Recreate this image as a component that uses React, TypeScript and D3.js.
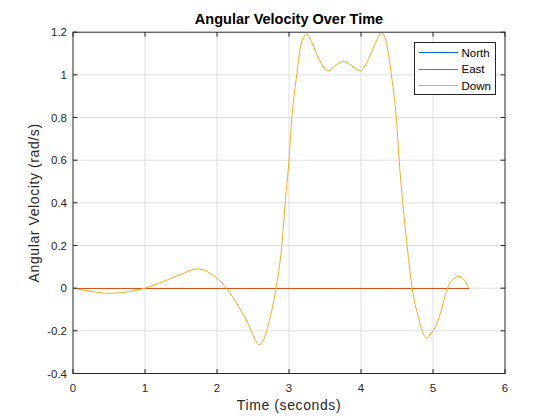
import * as d3 from "d3";

const xTicks = [0, 1, 2, 3, 4, 5, 6];
const yTicks = [-0.4, -0.2, 0, 0.2, 0.4, 0.6, 0.8, 1, 1.2];

// North and East stay at zero the whole time
const flatTime = [0, 5.5];
const northVel = [0, 0];
const eastVel = [0, 0];

const downTime = [
  0, 0.25, 0.5, 0.75, 1.0, 1.25, 1.5, 1.72, 1.95, 2.13, 2.3, 2.45, 2.52, 2.58, 2.65, 2.72, 2.82, 2.9,
  2.95, 3.0, 3.04, 3.1, 3.18, 3.25, 3.32, 3.42, 3.55, 3.65, 3.76, 3.87, 3.99, 4.1, 4.2, 4.29, 4.36,
  4.43, 4.49, 4.53, 4.58, 4.64, 4.71, 4.8, 4.86, 4.91, 4.97, 5.02, 5.1, 5.2, 5.28, 5.36, 5.44, 5.5,
];
const downVel = [
  0, -0.015, -0.024, -0.018, 0, 0.03, 0.065, 0.09, 0.06, 0, -0.085, -0.18, -0.235, -0.265, -0.24,
  -0.16, 0, 0.2, 0.41, 0.6, 0.8, 0.98, 1.16, 1.19, 1.15, 1.07, 1.019, 1.047, 1.063, 1.043, 1.019,
  1.07, 1.15, 1.196, 1.14, 0.98, 0.8, 0.6, 0.4, 0.2, 0, -0.14, -0.21, -0.233, -0.215, -0.19, -0.12,
  0, 0.042, 0.055, 0.035, 0,
];

const seriesNames = ["North", "East", "Down"];
const seriesColors = ["#0072BD", "#D95319", "#EDB120"];

const W = 560;
const H = 420;
const left = 73;
const right = 505;
const top = 32.2;
const bottom = 373.5;
const font = "'Liberation Sans', Arial, Helvetica, sans-serif";
const axisColor = "#262626";

export default function App() {
  const x = d3.scaleLinear().domain([0, 6]).range([left, right]);
  const y = d3.scaleLinear().domain([-0.4, 1.2]).range([bottom, top]);

  const smooth = d3
    .line<number>()
    .x((_, i) => x(downTime[i]))
    .y((d) => y(d))
    .curve(d3.curveMonotoneX);
  const flat = d3
    .line<number>()
    .x((_, i) => x(flatTime[i]))
    .y((d) => y(d));

  const tickLen = 4.5;
  const fmt = (v: number) => String(Math.round(v * 10) / 10);

  return (
    <svg
      width={W}
      height={H}
      style={{ position: "absolute", left: 0, top: 0, background: "#fff" }}
      fontFamily={font}
    >
      <rect x={0} y={0} width={W} height={H} fill="#fff" />
      {/* grid */}
      <g stroke="#dfdfdf" strokeWidth={1}>
        {xTicks.slice(1, -1).map((t) => (
          <line key={"gx" + t} x1={x(t)} x2={x(t)} y1={top} y2={bottom} />
        ))}
        {yTicks.slice(1, -1).map((t) => (
          <line key={"gy" + t} x1={left} x2={right} y1={y(t)} y2={y(t)} />
        ))}
      </g>

      {/* series */}
      <g fill="none" strokeWidth={1}>
        <path d={flat(northVel) ?? ""} stroke={seriesColors[0]} shapeRendering="crispEdges" />
        <path d={flat(eastVel) ?? ""} stroke={seriesColors[1]} shapeRendering="crispEdges" />
        <path d={smooth(downVel) ?? ""} stroke={seriesColors[2]} />
      </g>

      {/* box + ticks */}
      <rect
        x={left}
        y={top}
        width={right - left}
        height={bottom - top}
        fill="none"
        stroke={axisColor}
        strokeWidth={1}
      />
      <g stroke={axisColor} strokeWidth={1}>
        {xTicks.map((t) => (
          <g key={"tx" + t}>
            <line x1={x(t)} x2={x(t)} y1={bottom} y2={bottom - tickLen} />
            <line x1={x(t)} x2={x(t)} y1={top} y2={top + tickLen} />
          </g>
        ))}
        {yTicks.map((t) => (
          <g key={"ty" + t}>
            <line x1={left} x2={left + tickLen} y1={y(t)} y2={y(t)} />
            <line x1={right} x2={right - tickLen} y1={y(t)} y2={y(t)} />
          </g>
        ))}
      </g>

      {/* tick labels */}
      <g fill={axisColor} fontSize={11.5}>
        {xTicks.map((t) => (
          <text key={"lx" + t} x={x(t)} y={bottom + 18.5} textAnchor="middle">
            {fmt(t)}
          </text>
        ))}
        {yTicks.map((t) => (
          <text key={"ly" + t} x={left - 6} y={y(t) + 4} textAnchor="end">
            {fmt(t)}
          </text>
        ))}
      </g>

      {/* axis labels */}
      <text
        x={(left + right) / 2}
        y={410}
        textAnchor="middle"
        fontSize={14}
        letterSpacing={0.6}
        fill={axisColor}
      >
        Time (seconds)
      </text>
      <text
        transform={`translate(39,${(top + bottom) / 2}) rotate(-90)`}
        textAnchor="middle"
        fontSize={14}
        letterSpacing={0.6}
        fill={axisColor}
      >
        Angular Velocity (rad/s)
      </text>
      <text
        x={(left + right) / 2}
        y={24}
        textAnchor="middle"
        fontSize={14.5}
        fontWeight="bold"
        fill="#000"
      >
        Angular Velocity Over Time
      </text>

      {/* legend */}
      <g>
        <rect x={414.5} y={42.5} width={81} height={52} fill="#fff" stroke={axisColor} strokeWidth={1} />
        {seriesNames.map((name, i) => (
          <g key={name}>
            <line
              x1={419}
              x2={458}
              y1={52.5 + i * 16.7}
              y2={52.5 + i * 16.7}
              stroke={seriesColors[i]}
              strokeWidth={1}
              shapeRendering="crispEdges"
            />
            <text x={461.5} y={56.5 + i * 16.7} fontSize={11.5} fill="#000">
              {name}
            </text>
          </g>
        ))}
      </g>
    </svg>
  );
}
